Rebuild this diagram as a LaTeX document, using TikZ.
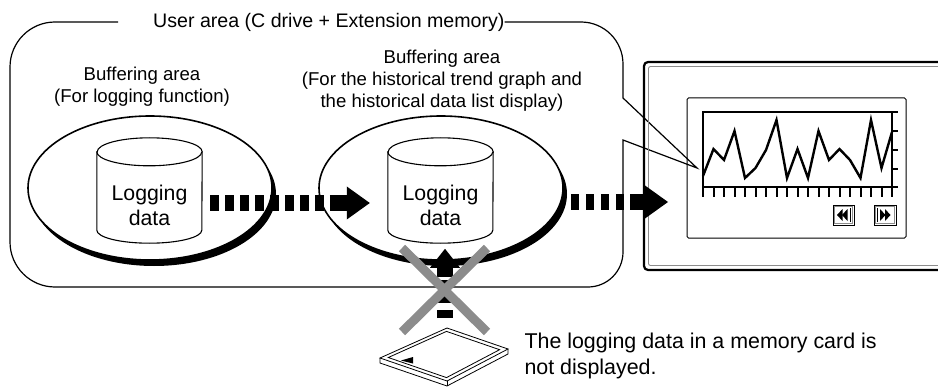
\documentclass[tikz,border=0pt]{standalone}
\usepackage{fontspec}
\setmainfont{Liberation Sans}
\usetikzlibrary{arrows.meta, shapes.geometric}

\begin{document}
\begin{tikzpicture}[x=1pt, y=1pt]
\tikzstyle{buffer} = [ellipse, draw=black, line width=1.6pt, fill=white, minimum width=244pt, minimum height=144pt, inner sep=0pt]
\tikzstyle{buffer shadow} = [fill=black]
\tikzstyle{drum} = [rectangle, minimum width=105pt, minimum height=78pt, inner sep=0pt]
\tikzstyle{drum line} = [draw=black, line width=1.1pt, fill=white]
\tikzstyle{drum text} = [align=center, font=\fontsize{21.3}{25}\selectfont]
\tikzstyle{caption} = [align=center, font=\fontsize{18.6}{22}\selectfont]
\tikzstyle{flow} = [line width=16pt, dash pattern=on 8.5pt off 6.5pt]
\tikzstyle{flow head} = [line width=16pt, -{Triangle[length=23pt, width=33pt, line width=0pt]}]
\tikzstyle{cross} = [line width=9pt, black!45]
\tikzstyle{card line} = [line width=0.8pt]
\tikzstyle{tick} = [line width=2pt]

\useasboundingbox (0,0) rectangle (938,389);

% user area with the pointer to the trend graph
\node[anchor=west, inner sep=0pt, font=\fontsize{19.6}{23}\selectfont] (ua) at (153,367) {User area (C drive + Extension memory)};
\draw[line width=1.2pt] ([xshift=-35pt]ua.west) -- (55,367) arc[start angle=90, end angle=180, radius=45]
  -- (10,147) arc[start angle=180, end angle=270, radius=45]
  -- (588,102) arc[start angle=270, end angle=360, radius=35]
  -- (623,249) -- (697,221) -- (623,291)
  -- (623,325) arc[start angle=0, end angle=90, radius=42] -- (ua.east);

% GOT screen
\draw[line width=2.2pt, rounded corners=4pt] (938,327) -- (644,327) -- (644,119) -- (938,119);
\draw[black!45, line width=0.9pt, rounded corners=2pt] (938,322.5) -- (648.5,322.5) -- (648.5,123.5) -- (938,123.5);
\coordinate (screen) at (644,187);
\draw[line width=1pt, rounded corners=1.5pt] (687,291) rectangle (906,151);
\draw[line width=2.7pt] (703,277) rectangle (892,202);
\foreach \i in {0,...,18}
  \draw[tick] ({703+10.5*\i},202) -- ({703+10.5*\i},192);
\foreach \y in {277,258,239,220,202}
  \draw[tick] (892,\y) -- (898,\y);
\draw[line width=2.4pt] (703,213) -- (713.5,240) -- (724,229) -- (734.5,258) -- (745,211) -- (755.5,221)
  -- (766,239) -- (776.5,269) -- (787,211) -- (797.5,240) -- (808,211) -- (818.5,258) -- (829,229)
  -- (839.5,240) -- (850,229) -- (860.5,211) -- (871,269) -- (881.5,221) -- (892,257);

% scroll buttons
\draw[line width=0.8pt] (833,184) rectangle (854,164);
\draw[black!45, line width=0.6pt] (834.5,182.5) rectangle (852.5,165.5);
\fill (837,174) -- (842.5,180) -- (842.5,168) -- cycle;
\fill (842,174) -- (847.5,180) -- (847.5,168) -- cycle;
\draw[line width=1.4pt] (850.5,181) -- (850.5,167);
\draw[line width=0.8pt] (874,184) rectangle (896,164);
\draw[black!45, line width=0.6pt] (875.5,182.5) rectangle (894.5,165.5);
\draw[line width=1.4pt] (877.5,181) -- (877.5,167);
\fill (880,180) -- (885.5,174) -- (880,168) -- cycle;
\fill (885,180) -- (890.5,174) -- (885,168) -- cycle;

% buffering areas
\foreach \x in {150, 441}
  \fill[buffer shadow] (\x+4,195) ellipse[x radius=122, y radius=72];
\node[buffer] (buf1) at (150,201) {};
\node[buffer] (buf2) at (441,201) {};
\node[caption] (lbl1) at (142,302) {Buffering area\\(For logging function)};
\node[caption] (lbl2) at (442,308) {Buffering area\\(For the historical trend graph and\\the historical data list display)};

\foreach \d/\x in {1/149.5, 2/440.5} {
  \node[drum] (drum\d) at (\x,198) {};
  \draw[drum line] (drum\d.north west) -- (drum\d.south west)
    arc[start angle=180, end angle=360, x radius=52.5pt, y radius=13pt]
    -- (drum\d.north east) arc[start angle=0, end angle=180, x radius=52.5pt, y radius=14pt] -- cycle;
  \draw[line width=1.1pt] (drum\d.north west) arc[start angle=180, end angle=360, x radius=52.5pt, y radius=14pt];
  \node[drum text] (data\d) at ([yshift=-14pt]drum\d.center) {Logging\\data};
}

% data flow
\draw[flow] ([shift={(8pt,-12pt)}]drum1.east) -- ([shift={(-58pt,-12pt)}]drum2.west);
\draw[flow head] ([shift={(-58pt,-12pt)}]drum2.west) -- ([shift={(-18pt,-12pt)}]drum2.west);
\draw[flow] ([shift={(7pt,-14pt)}]buf2.east) -- ([xshift=-14pt]screen);
\draw[flow head] ([xshift=-14pt]screen) -- ([xshift=24pt]screen);

% memory card
\coordinate (card) at (447,61);
\draw[card line, fill=white] (380,31) -- (card) -- (508,40) -- (447,8) -- cycle;
\draw[card line] (380,31) -- (380,26) -- (447,3) -- (508,35) -- (508,40);
\draw[card line] (447,8) -- (447,3);
\draw[card line] (388.3,31.5) -- (446.5,57.6) -- (499.6,39.3) -- (446.5,11.4) -- cycle;
\fill (401,28.5) -- (413,32) -- (413,25.5) -- cycle;

\draw[flow] ([shift={(-2pt,10pt)}]card) -- ([shift={(-2pt,51pt)}]card);
\draw[flow head, -{Triangle[length=19pt, width=30pt, line width=0pt]}] ([shift={(-2pt,51pt)}]card) -- ([shift={(4pt,12pt)}]buf2.south);
\draw[cross] (445,99) +(-43,42) -- +(42,-42);
\draw[cross] (445,99) +(42,42) -- +(-43,-42);

\node[anchor=west, align=left, font=\fontsize{21.4}{26}\selectfont] (note) at (521,33) {The logging data in a memory card is\\not displayed.};
\end{tikzpicture}
\end{document}
